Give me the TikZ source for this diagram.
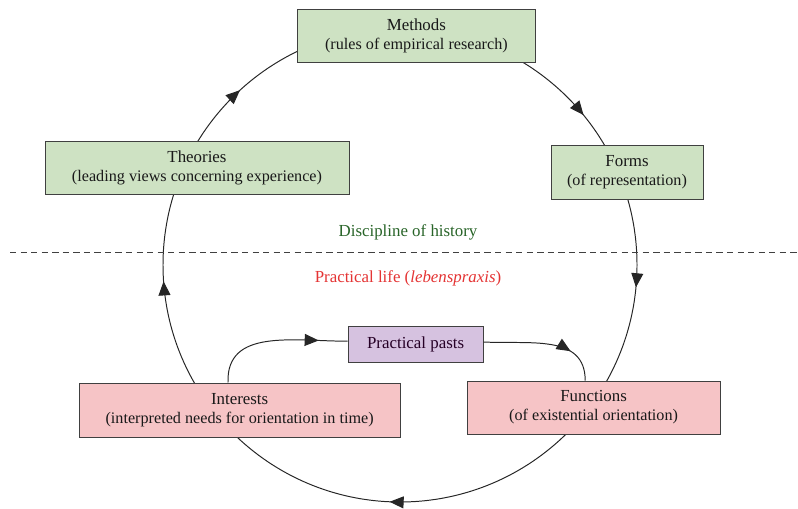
\documentclass[tikz,border=0pt]{standalone}
\usepackage{fontspec}
\setmainfont{Liberation Serif}
\usetikzlibrary{arrows.meta, positioning, decorations.markings, calc}

\definecolor{boxgreen}{RGB}{206,226,195}
\definecolor{boxpink}{RGB}{246,196,198}
\definecolor{boxpurple}{RGB}{214,194,224}
\definecolor{textgreen}{RGB}{40,100,40}
\definecolor{textred}{RGB}{228,52,52}

\tikzset{
  stage/.style={draw=black!75, line width=0.6pt, align=center, inner sep=2pt,
    minimum height=1.33cm, text=black!90, font=\fontsize{12}{13.5}\selectfont},
  upper/.style={stage, fill=boxgreen},
  lower/.style={stage, fill=boxpink},
  flow/.style={line width=0.7pt, black!85},
  tri/.tip={Triangle[length=10pt,width=8.5pt]},
}
\newcommand{\subline}[1]{{\fontsize{11.5}{13.5}\selectfont #1}}

\begin{document}
\begin{tikzpicture}
  \useasboundingbox (0,0) rectangle (19.95,-12.7);

  % the big cycle, clockwise
  \coordinate (hub) at (10,-6.625);
  \draw[flow, postaction={decorate}, decoration={markings,
      mark=at position 0.141 with {\arrow{tri}},
      mark=at position 0.265 with {\arrow{tri}},
      mark=at position 0.507 with {\arrow{tri}},
      mark=at position 0.739 with {\arrow{tri}},
      mark=at position 0.882 with {\arrow{tri}}}]
    (hub) ++(90:5.925) arc[start angle=90, end angle=-270, radius=5.925];

  % discipline of history
  \node[upper, minimum width=5.93cm] (methods) at (10.41,-0.89)
    {Methods\\\subline{(rules of empirical research)}};
  \node[upper, minimum width=3.8cm] (forms) at (15.675,-4.31)
    {Forms\\\subline{(of representation)}};
  \node[upper, minimum width=7.6cm] (theories) at (4.925,-4.19)
    {Theories\\\subline{(leading views concerning experience)}};

  % divider
  \coordinate (cutL) at (0.25,-6.3);
  \coordinate (cutR) at (19.95,-6.3);
  \draw[black!75, line width=0.6pt, dash pattern=on 4.5pt off 3pt] (cutL) -- (cutR);
  \node[text=textgreen, font=\fontsize{12}{14}\selectfont] (discipline) at (10.2,-5.8)
    {Discipline of history};
  \node[text=textred, font=\fontsize{12}{14}\selectfont] (praxis) at (10.2,-6.95)
    {Practical life (\textit{lebenspraxis})};

  % practical life
  \node[lower, minimum width=8.03cm, minimum height=1.35cm] (interests) at (5.99,-10.25)
    {Interests\\\subline{(interpreted needs for orientation in time)}};
  \node[lower, minimum width=6.33cm] (functions) at (14.84,-10.19)
    {Functions\\\subline{(of existential orientation)}};
  \node[stage, fill=boxpurple, minimum width=3.38cm, minimum height=0.88cm,
    text=black!70!violet] (pasts) at (10.39,-8.61) {Practical pasts};

  % inner loop
  \draw[flow, postaction={decorate}, decoration={markings,
      mark=at position 0.8 with {\arrow{tri}}}]
    ([xshift=-0.29cm]interests.north) to[out=92, in=180, looseness=1.1]
    ([yshift=0.08cm]pasts.west);
  \draw[flow, postaction={decorate}, decoration={markings,
      mark=at position 0.72 with {\arrow{tri}}}]
    ([yshift=0.06cm]pasts.east) to[out=-3, in=90, looseness=1.1]
    ([xshift=-0.21cm]functions.north);
\end{tikzpicture}
\end{document}
